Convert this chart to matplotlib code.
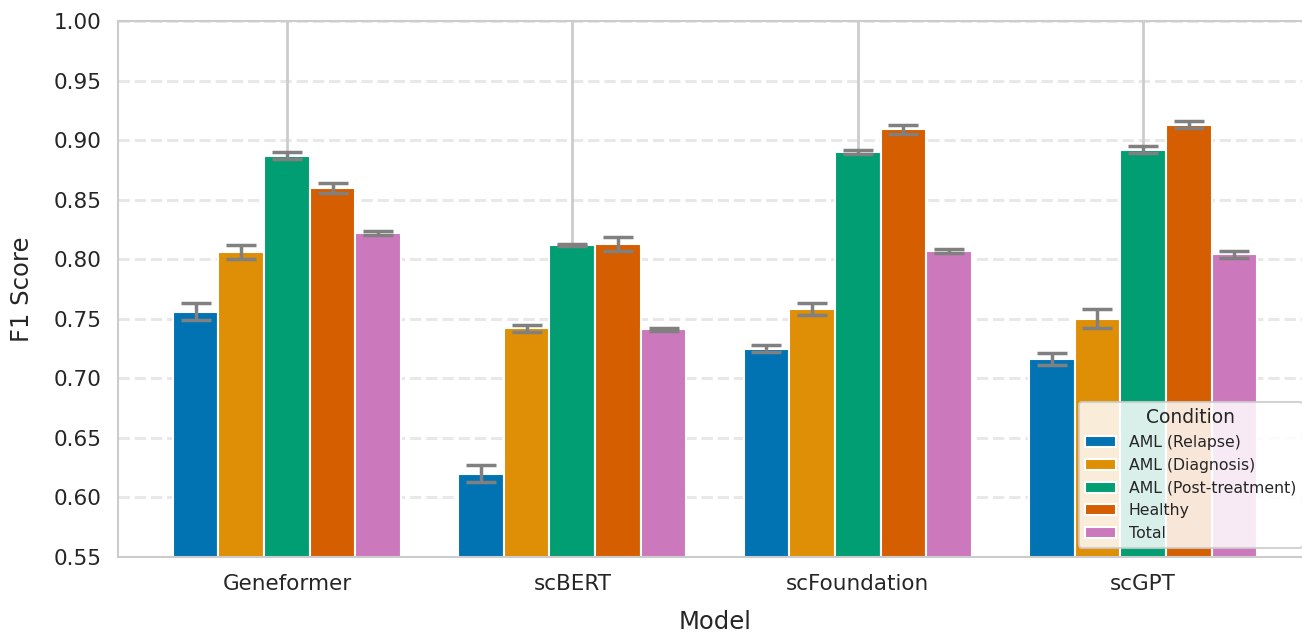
import numpy as np
import matplotlib
matplotlib.use("Agg")
import matplotlib.pyplot as plt
import seaborn as sns

models = ["Geneformer", "scBERT", "scFoundation", "scGPT"]
conditions = ["AML (Relapse)", "AML (Diagnosis)", "AML (Post-treatment)", "Healthy", "Total"]

# mean F1 per condition, one value per model
f1_relapse = [0.756, 0.620, 0.725, 0.716]
f1_diagnosis = [0.806, 0.742, 0.758, 0.750]
f1_post = [0.887, 0.812, 0.890, 0.892]
f1_healthy = [0.860, 0.813, 0.909, 0.913]
f1_total = [0.822, 0.741, 0.807, 0.804]

# standard deviations
sd_relapse = [0.007, 0.007, 0.003, 0.005]
sd_diagnosis = [0.006, 0.003, 0.005, 0.008]
sd_post = [0.003, 0.001, 0.002, 0.003]
sd_healthy = [0.004, 0.006, 0.004, 0.003]
sd_total = [0.002, 0.001, 0.002, 0.003]

means = [f1_relapse, f1_diagnosis, f1_post, f1_healthy, f1_total]
sds = [sd_relapse, sd_diagnosis, sd_post, sd_healthy, sd_total]

sns.set_theme(style="whitegrid")
colors = sns.color_palette("colorblind", len(conditions))
text_color = "#262626"

fig = plt.figure(figsize=(13.02, 6.33), dpi=100)
ax = fig.add_axes([118 / 1302, 76 / 633, 1194 / 1302, 536 / 633])

x = np.arange(len(models))
width = 0.16
for i, cond in enumerate(conditions):
    offset = (i - 2) * width
    ax.bar(x + offset, means[i], width, yerr=sds[i], color=colors[i],
           edgecolor="white", linewidth=1.5, label=cond, capsize=11,
           error_kw=dict(ecolor="gray", elinewidth=2.5, capthick=2.5),
           zorder=2)

ax.set_xlim(-0.592, 3.592)
ax.set_ylim(0.55, 1.0)
ax.set_yticks(np.arange(0.55, 1.0001, 0.05))
ax.set_xticks(x)
ax.set_xticklabels(models)
ax.tick_params(axis="both", labelsize=15.5, colors=text_color, pad=6)

ax.xaxis.grid(True, color="#cccccc", linewidth=2, zorder=0)
ax.yaxis.grid(True, linestyle="--", color="#cccccc", alpha=0.45,
              linewidth=2.2, zorder=0)
ax.set_axisbelow(True)
for side in ax.spines.values():
    side.set_color("#cccccc")
    side.set_linewidth(1.5)

ax.set_xlabel("Model", fontsize=17.5, color=text_color, labelpad=12)
ax.set_ylabel("F1 Score", fontsize=17.5, color=text_color, labelpad=14)

leg = ax.legend(title="Condition", loc="lower right", fontsize=11.3,
                title_fontsize=13.5, framealpha=0.85, edgecolor="#cccccc",
                handlelength=2.0, borderaxespad=0.6)
leg.get_frame().set_linewidth(1.5)
for t in leg.get_texts():
    t.set_color(text_color)
leg.get_title().set_color(text_color)

fig.savefig("out.png", dpi=100)
